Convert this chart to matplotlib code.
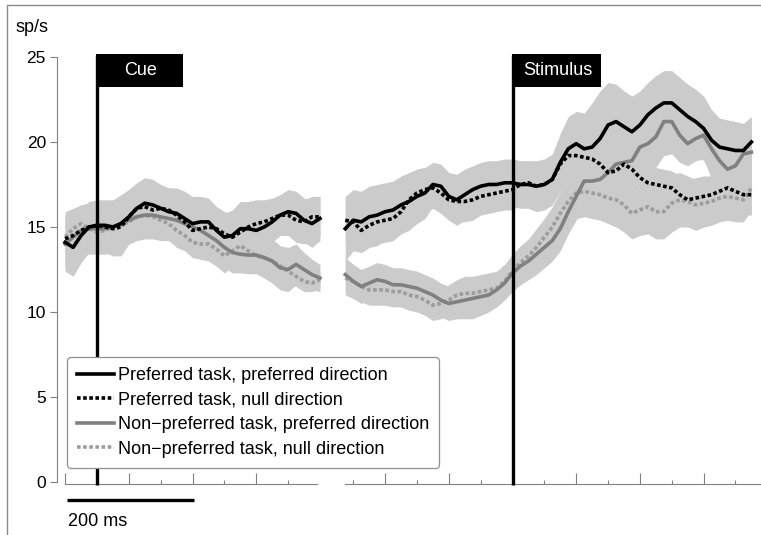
import numpy as np
import matplotlib.pyplot as plt
from matplotlib.lines import Line2D
from matplotlib.patches import Rectangle

plt.rcParams['font.family'] = ['Liberation Sans', 'DejaVu Sans']

# -----------------------------
# Data (sp/s)
# -----------------------------
t_cue = np.arange(-50, 350.1, 12.5)      # ms from cue onset
t_stim = np.arange(-262.5, 375.1, 12.5)  # ms from stimulus onset

# cue-aligned segment
pt_pd_cue = [14.1, 13.8, 14.5, 15.0, 15.1, 15.1, 15.0, 15.2, 15.6, 16.1, 16.4, 16.3, 16.1, 15.9, 15.8, 15.5,
             15.2, 15.3, 15.3, 14.8, 14.4, 14.5, 14.9, 14.9, 14.8, 15.0, 15.3, 15.7, 15.9, 15.8, 15.4, 15.2, 15.5]
pt_nd_cue = [14.3, 14.5, 14.8, 15.0, 15.1, 15.0, 14.9, 15.0, 15.6, 16.1, 16.2, 16.0, 16.1, 16.0, 15.7, 15.3,
             14.8, 14.9, 15.0, 14.9, 14.6, 14.4, 14.7, 15.0, 15.2, 15.3, 15.5, 15.7, 15.7, 15.4, 15.3, 15.6, 15.6]
npt_pd_cue = [14.0, 14.4, 14.8, 14.9, 14.9, 14.9, 15.0, 15.2, 15.4, 15.6, 15.7, 15.7, 15.6, 15.5, 15.4, 15.2,
              15.0, 14.8, 14.5, 14.2, 13.8, 13.5, 13.4, 13.35, 13.35, 13.2, 13.0, 12.6, 12.5, 12.8, 12.5, 12.2, 12.0]
npt_nd_cue = [14.4, 14.9, 15.2, 14.9, 14.7, 14.8, 15.0, 15.1, 15.3, 15.6, 15.7, 15.6, 15.4, 15.2, 14.8, 14.5,
              14.1, 14.0, 14.0, 13.7, 13.3, 13.6, 13.9, 13.6, 13.3, 13.2, 13.0, 12.7, 12.4, 12.1, 11.8, 11.7, 11.9]

sem_pt_pd_cue = [1.7, 1.7, 1.6, 1.5, 1.5, 1.5, 1.6, 1.7, 1.6, 1.5, 1.5, 1.5, 1.4, 1.4, 1.5, 1.6,
                 1.6, 1.5, 1.4, 1.4, 1.4, 1.5, 1.6, 1.6, 1.4, 1.3, 1.2, 1.2, 1.3, 1.3, 1.3, 1.4, 1.3]
sem_pt_nd_cue = [1.6, 1.6, 1.5, 1.4, 1.4, 1.5, 1.6, 1.7, 1.6, 1.5, 1.4, 1.4, 1.3, 1.3, 1.4, 1.5,
                 1.6, 1.5, 1.4, 1.3, 1.3, 1.4, 1.5, 1.5, 1.4, 1.3, 1.2, 1.2, 1.2, 1.3, 1.3, 1.2, 1.2]
sem_npt_pd_cue = [1.4, 1.5, 1.5, 1.5, 1.5, 1.5, 1.5, 1.5, 1.4, 1.4, 1.4, 1.4, 1.4, 1.3, 1.3, 1.2,
                  1.2, 1.3, 1.4, 1.3, 1.2, 1.2, 1.1, 1.1, 1.1, 1.2, 1.3, 1.3, 1.3, 1.2, 1.0, 0.9, 0.8]
sem_npt_nd_cue = [1.2, 1.1, 1.0, 1.0, 1.0, 1.0, 1.0, 1.0, 1.0, 1.0, 1.0, 1.0, 1.0, 1.0, 1.0, 0.9,
                  0.9, 0.9, 1.0, 1.0, 1.0, 0.9, 0.8, 0.8, 0.8, 0.7, 0.7, 0.7, 0.7, 0.6, 0.6, 0.5, 0.5]

# stimulus-aligned segment
pt_pd_stim = [14.9, 15.4, 15.3, 15.6, 15.7, 15.9, 16.0, 16.3, 16.5, 16.8, 17.0, 17.5, 17.4, 16.8, 16.6, 16.9,
              17.2, 17.4, 17.5, 17.5, 17.6, 17.6, 17.5, 17.5, 17.4, 17.5, 17.8, 18.8, 19.6, 19.9, 19.6, 19.7,
              20.2, 21.0, 21.2, 20.9, 20.6, 21.0, 21.6, 22.0, 22.3, 22.3, 21.9, 21.5, 21.2, 20.8, 20.1, 19.7,
              19.6, 19.5, 19.5, 20.0]
pt_nd_stim = [15.4, 15.3, 14.8, 15.1, 15.3, 15.4, 15.5, 15.9, 16.6, 17.0, 17.2, 17.3, 17.0, 16.6, 16.5, 16.5,
              16.6, 16.8, 16.9, 17.0, 17.1, 17.2, 17.5, 17.6, 17.4, 17.5, 17.8, 18.7, 19.2, 19.2, 19.1, 19.0,
              18.7, 18.2, 18.3, 18.7, 18.4, 17.9, 17.6, 17.5, 17.4, 17.3, 16.9, 16.6, 16.7, 16.8, 16.9, 17.1,
              17.3, 17.1, 16.9, 16.9]
npt_pd_stim = [12.2, 11.8, 11.5, 11.7, 11.9, 11.8, 11.6, 11.6, 11.5, 11.4, 11.2, 11.0, 10.7, 10.5, 10.6, 10.7,
               10.8, 10.9, 11.0, 11.3, 11.7, 12.3, 12.7, 13.0, 13.4, 13.8, 14.2, 14.9, 15.9, 16.8, 17.7, 17.7,
               17.8, 18.2, 18.7, 18.8, 18.9, 19.7, 19.9, 20.3, 21.2, 21.2, 20.4, 19.9, 20.2, 20.4, 19.6, 18.9,
               18.4, 18.6, 19.3, 19.4]
npt_nd_stim = [12.0, 11.8, 11.5, 11.3, 11.3, 11.3, 11.2, 11.2, 11.0, 10.9, 10.7, 10.4, 10.5, 10.7, 11.0, 11.1,
               11.1, 11.2, 11.3, 11.4, 11.8, 12.4, 12.9, 13.3, 13.8, 14.4, 15.0, 15.8, 16.5, 17.0, 17.1, 17.0,
               16.9, 16.7, 16.6, 16.3, 15.8, 16.0, 16.2, 15.9, 15.9, 16.4, 16.6, 16.5, 16.3, 16.4, 16.5, 16.7,
               16.8, 16.7, 16.6, 17.3]

sem_pt_pd_stim = [1.9, 1.8, 1.8, 1.8, 1.8, 1.7, 1.7, 1.7, 1.7, 1.6, 1.5, 1.3, 1.3, 1.4, 1.5, 1.5,
                  1.4, 1.4, 1.4, 1.4, 1.4, 1.4, 1.4, 1.4, 1.5, 1.5, 1.5, 1.7, 1.9, 1.9, 2.1, 2.6,
                  2.8, 2.5, 2.2, 2.1, 2.1, 2.0, 1.9, 1.9, 1.9, 1.9, 1.9, 1.9, 1.9, 1.9, 1.8, 1.7,
                  1.7, 1.7, 1.6, 1.5]
sem_pt_nd_stim = [1.4, 1.4, 1.3, 1.3, 1.3, 1.3, 1.3, 1.3, 1.4, 1.4, 1.3, 1.2, 1.2, 1.2, 1.2, 1.2,
                  1.2, 1.1, 1.1, 1.1, 1.1, 1.2, 1.2, 1.2, 1.3, 1.3, 1.3, 1.3, 1.3, 1.3, 1.3, 1.3,
                  1.3, 1.2, 1.1, 1.0, 1.0, 1.0, 1.0, 1.0, 1.0, 1.0, 1.1, 1.2, 1.2, 1.2, 1.1, 1.2,
                  1.2, 1.2, 1.2, 1.2]
sem_npt_pd_stim = [1.0, 1.0, 1.0, 1.0, 1.0, 1.0, 1.0, 1.0, 1.0, 1.0, 1.0, 1.0, 1.0, 1.0, 1.0, 1.1,
                   1.2, 1.1, 1.0, 1.0, 1.0, 1.1, 1.1, 1.1, 1.2, 1.2, 1.2, 1.3, 1.3, 1.4, 1.5, 1.5,
                   1.6, 1.6, 1.6, 1.6, 1.6, 1.7, 1.7, 1.8, 2.0, 1.9, 1.6, 1.3, 1.3, 1.4, 1.8, 1.7,
                   1.6, 1.6, 1.6, 1.6]
sem_npt_nd_stim = [1.0, 1.0, 0.9, 0.9, 0.9, 0.9, 0.9, 0.9, 0.9, 0.9, 0.9, 0.9, 0.9, 0.9, 0.9, 1.0,
                   1.0, 1.0, 1.0, 1.0, 1.0, 1.0, 1.0, 1.0, 1.1, 1.1, 1.2, 1.3, 1.4, 1.5, 1.5, 1.5,
                   1.5, 1.5, 1.6, 1.6, 1.5, 1.5, 1.6, 1.6, 1.6, 1.7, 1.6, 1.5, 1.5, 1.4, 1.4, 1.4,
                   1.4, 1.4, 1.3, 1.3]

labels = ["Preferred task, preferred direction",
          "Preferred task, null direction",
          "Non\u2212preferred task, preferred direction",
          "Non\u2212preferred task, null direction"]

# -----------------------------
# Styles
# -----------------------------
dotted = (0, (1, 0.7))
styles = [dict(color='black', ls='-', lw=2.6),
          dict(color='black', ls=dotted, lw=2.6),
          dict(color='#808080', ls='-', lw=2.6),
          dict(color='#9c9c9c', ls=dotted, lw=2.6)]
band_color = '#cbcbcb'
axis_color = '#808080'
fs = 13

# -----------------------------
# Layout (pixels on a 761x535 canvas)
# -----------------------------
W, H = 761, 535
px_per_ms = 0.637
y0_px, px_per_unit = 482, 17


def axes_rect(x_left, x_right):
    top = y0_px - 26 * px_per_unit
    bottom = y0_px + 1 * px_per_unit
    return [x_left / W, 1 - bottom / H, (x_right - x_left) / W, (bottom - top) / H]


fig = plt.figure(figsize=(W / 100, H / 100), dpi=100)
ax1 = fig.add_axes(axes_rect(57, 332))
ax2 = fig.add_axes(axes_rect(338, 761))
ax1.set_xlim(-(97 - 57) / px_per_ms, (332 - 97) / px_per_ms)
ax2.set_xlim(-(512.5 - 338) / px_per_ms, (761 - 512.5) / px_per_ms)

segments = [(ax1, t_cue, [pt_pd_cue, pt_nd_cue, npt_pd_cue, npt_nd_cue],
             [sem_pt_pd_cue, sem_pt_nd_cue, sem_npt_pd_cue, sem_npt_nd_cue]),
            (ax2, t_stim, [pt_pd_stim, pt_nd_stim, npt_pd_stim, npt_nd_stim],
             [sem_pt_pd_stim, sem_pt_nd_stim, sem_npt_pd_stim, sem_npt_nd_stim])]

for ax, t, series, sems in segments:
    for v, s in zip(series, sems):
        v, s = np.array(v), np.array(s)
        ax.fill_between(t, v - s, v + s, color=band_color, lw=0, zorder=1)
    for v, st in reversed(list(zip(series, styles))):
        ax.plot(t, v, zorder=3, **st)
    ax.set_ylim(-1, 26)
    ax.patch.set_visible(False)
    ax.spines['top'].set_visible(False)
    ax.spines['right'].set_visible(False)
    ax.spines['bottom'].set_position(('data', -0.12))
    ax.spines['bottom'].set_color(axis_color)
    ax.tick_params(axis='x', which='major', direction='in', length=8, width=0.8,
                   color=axis_color, labelbottom=False)
    ax.tick_params(axis='x', which='minor', direction='in', length=3, width=0.8,
                   color=axis_color)

# y axis only on the left segment
ax1.spines['left'].set_bounds(0, 25)
ax1.spines['left'].set_color(axis_color)
ax1.set_yticks([0, 5, 10, 15, 20, 25])
ax1.tick_params(axis='y', direction='out', length=5, width=0.8, color=axis_color,
                labelsize=12.5, pad=3)
ax2.spines['left'].set_visible(False)
ax2.set_yticks([])

ax1.spines['bottom'].set_bounds(-50, 346)
ax1.set_xticks([-50, 50, 150, 250])
ax1.set_xticks([0, 100, 200, 300], minor=True)
ax2.spines['bottom'].set_bounds(-262.5, 390)
ax2.set_xticks([-200, -100, 0, 100, 200, 300])
ax2.set_xticks([-250, -150, -50, 50, 150, 250, 350], minor=True)


# -----------------------------
# Event markers
# -----------------------------
def event(ax, label, box_ms):
    ax.plot([0, 0], [-0.15, 25.1], color='black', lw=2.4, solid_capstyle='butt',
            zorder=4, clip_on=False)
    ax.add_patch(Rectangle((-1.5, 23.25), box_ms, 1.9, facecolor='black',
                           edgecolor='none', zorder=4))
    ax.text(box_ms / 2, 24.2, label, color='white', ha='center', va='center',
            fontsize=fs, zorder=5)


event(ax1, 'Cue', 137)
event(ax2, 'Stimulus', 141)

# scale bar
ax1.plot([-47, 153], [-1.06, -1.06], color='black', lw=2.4, solid_capstyle='butt',
         clip_on=False)
ax1.text(-46, -2.35, '200 ms', fontsize=fs, ha='left', va='center')

fig.text(15 / W, 1 - 27 / H, 'sp/s', fontsize=fs, va='center')

# legend
handles = [Line2D([], [], **st) for st in styles]
leg = fig.legend(handles, labels, loc='upper left', bbox_to_anchor=(67 / W, 1 - 357 / H),
                 fontsize=fs, handlelength=2.05, handletextpad=0.2, labelspacing=0.42,
                 borderpad=0.55, borderaxespad=0, fancybox=True, framealpha=1,
                 edgecolor='#909090')
leg.get_frame().set_linewidth(0.9)

# frame around the panel
fig.add_artist(Rectangle((7 / W, -0.1), 1.2, 1.1 - 5 / H, transform=fig.transFigure,
                         fill=False, edgecolor='#8a8a8a', lw=1))

fig.savefig('out.png', dpi=100)
